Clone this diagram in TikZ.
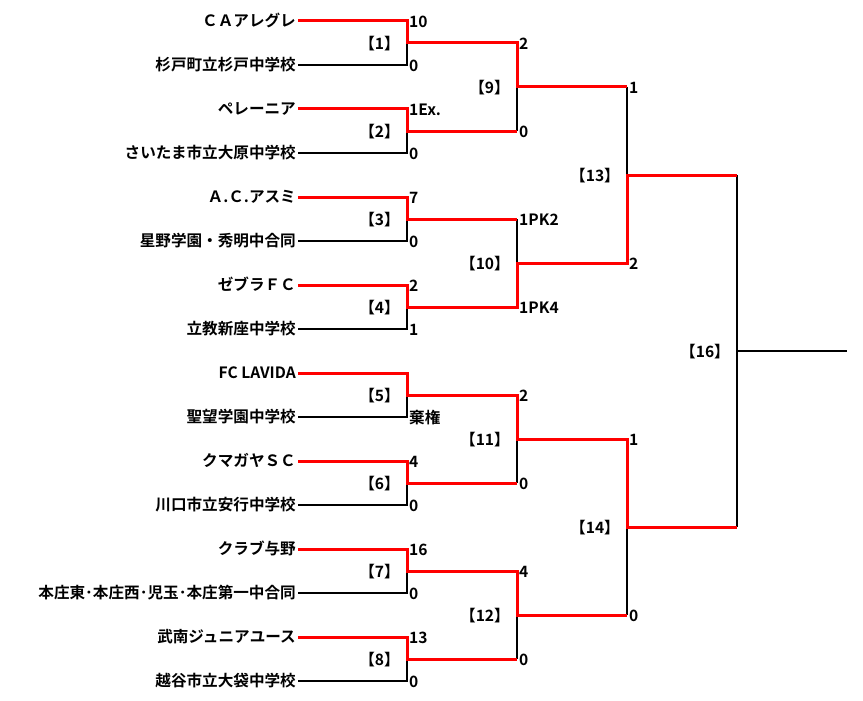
\documentclass[tikz,border=0pt]{standalone}
\usepackage{fontspec}
\setmainfont{Noto Sans CJK JP Bold}
\begin{document}
\begin{tikzpicture}[x=1pt,y=-1pt,
  txt/.style={inner sep=0pt,font=\fontsize{15.6}{16}\selectfont,text height=13.6pt,text depth=1.9pt},
  team/.style={txt,anchor=east,inner xsep=2pt},
  score/.style={txt,anchor=west},
  mlabel/.style={txt,anchor=east},
  win/.style={draw=red,line width=3pt},
  lose/.style={draw=black,line width=2pt}]
\useasboundingbox (0,0) rectangle (863,701);
% teams
\foreach \n [count=\i] in {ＣＡアレグレ,杉戸町立杉戸中学校,ペレーニア,さいたま市立大原中学校,Ａ.Ｃ.アスミ,星野学園・秀明中合同,ゼブラＦＣ,立教新座中学校,FC LAVIDA,聖望学園中学校,クマガヤＳＣ,川口市立安行中学校,クラブ与野,本庄東･本庄西･児玉･本庄第一中合同,武南ジュニアユース,越谷市立大袋中学校}
  \node[team] (t\i) at (298,{21+44*(\i-1)}) {\n};
% junctions
\foreach \k in {1,...,8} \coordinate (m\k) at (407,{43+88*(\k-1)});
\foreach \k in {9,...,12} \coordinate (m\k) at (517,{87+176*(\k-9)});
\coordinate (m13) at (627,175);
\coordinate (m14) at (627,527);
\coordinate (m16) at (737,351);
\coordinate (fin) at (847,351);
% losing connectors
\foreach \a/\m in {2/1,4/2,6/3,8/4,10/5,12/6,14/7,16/8} \draw[lose] (t\a.east) -| (m\m);
\foreach \a/\b in {2/9,3/10,6/11,8/12,9/13,12/14} \draw[lose] (m\a -| m\b) -- (m\b);
\draw[lose] (m13 -| m16) -- (m14 -| m16);
\draw[lose] (m16) -- (fin);
% winning connectors
\draw[win] (t1.east) -| (m1) -| (m9) -- (m9 -| m13);
\draw[win] (t3.east) -| (m2) -- (m2 -| m9);
\draw[win] (t5.east) -| (m3) -- (m3 -| m10);
\draw[win] (t7.east) -| (m4) -| (m10) -| (m13) -- (m13 -| m16);
\draw[win] (t9.east) -| (m5) -| (m11) -| (m14) -- (m14 -| m16);
\draw[win] (t11.east) -| (m6) -- (m6 -| m11);
\draw[win] (t13.east) -| (m7) -| (m12) -- (m12 -| m14);
\draw[win] (t15.east) -| (m8) -- (m8 -| m12);
% first round scores
\foreach \i/\s in {1/10,2/0,3/1Ex.,4/0,5/7,6/0,7/2,8/1,10/棄権,11/4,12/0,13/16,14/0,15/13,16/0}
  \node[score] (sa\i) at (409,{21.5+44*(\i-1)}) {\s};
% second round scores
\foreach \k/\s in {1/2,2/0,3/1PK2,4/1PK4,5/2,6/0,7/4,8/0}
  \node[score] (sb\k) at (519,{43.5+88*(\k-1)}) {\s};
% third round scores
\foreach \k/\s in {1/1,2/2,3/1,4/0}
  \node[score] (sc\k) at (629,{87.5+176*(\k-1)}) {\s};
% match labels
\foreach \k in {1,...,8} \node[mlabel] (l\k) at (400,{43.5+88*(\k-1)}) {【\k】};
\foreach \k in {9,...,12} \node[mlabel] (l\k) at (510,{87.5+176*(\k-9)}) {【\k】};
\node[mlabel] (l13) at (620,175.5) {【13】};
\node[mlabel] (l14) at (620,527.5) {【14】};
\node[mlabel] (l16) at (730,351.5) {【16】};
\end{tikzpicture}
\end{document}
